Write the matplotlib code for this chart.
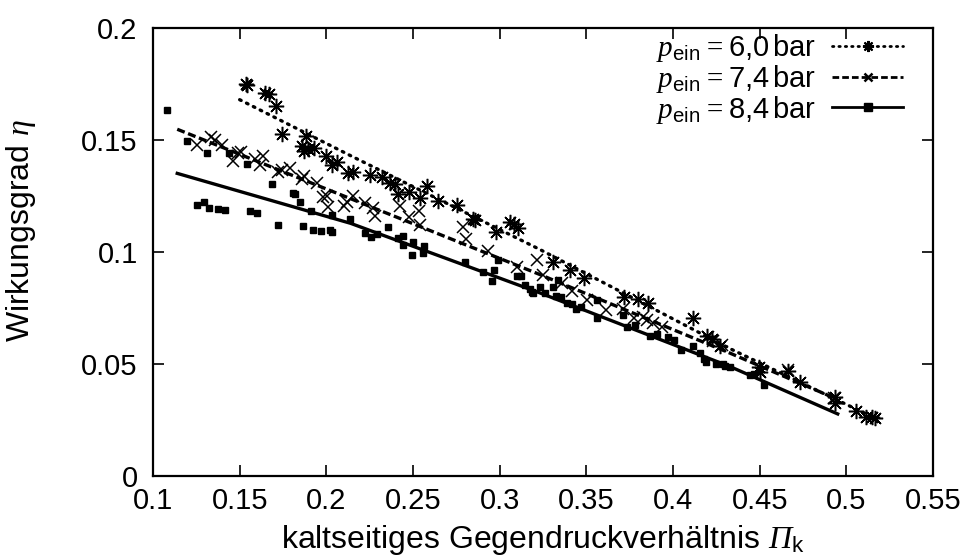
import matplotlib
matplotlib.use("Agg")
import matplotlib.pyplot as plt

# p_ein = 6,0 bar (asterisks)
x60 = [0.1538, 0.1542, 0.1646, 0.1669, 0.1710, 0.1742, 0.1883, 0.1858, 0.1871, 0.1896,
       0.1931, 0.1998, 0.2031, 0.2063, 0.2127, 0.2156, 0.2252, 0.2319, 0.2368, 0.2397,
       0.2416, 0.2479, 0.2541, 0.2583, 0.2647, 0.2756, 0.2845, 0.2858, 0.2979, 0.3060,
       0.3080, 0.3103, 0.3306, 0.3406, 0.3487, 0.3718, 0.3800, 0.3858, 0.4118, 0.4195,
       0.4224, 0.4272, 0.4494, 0.4503, 0.4666, 0.4730, 0.4935, 0.4935, 0.5057, 0.5114,
       0.5147, 0.5166]
y60 = [0.1748, 0.1744, 0.1711, 0.1704, 0.1653, 0.1527, 0.1519, 0.1475, 0.1452, 0.1458,
       0.1463, 0.1429, 0.1388, 0.1403, 0.1351, 0.1359, 0.1344, 0.1336, 0.1307, 0.1304,
       0.1259, 0.1268, 0.1240, 0.1295, 0.1228, 0.1210, 0.1146, 0.1143, 0.1091, 0.1135,
       0.1125, 0.1109, 0.0957, 0.0920, 0.0882, 0.0798, 0.0789, 0.0774, 0.0704, 0.0625,
       0.0610, 0.0580, 0.0485, 0.0466, 0.0470, 0.0421, 0.0351, 0.0324, 0.0292, 0.0265,
       0.0262, 0.0257]

# p_ein = 7,4 bar (crosses)
x74 = [0.1252, 0.1333, 0.1358, 0.1396, 0.1463, 0.1492, 0.1506, 0.1588, 0.1617, 0.1633,
       0.1723, 0.1742, 0.1790, 0.1858, 0.1871, 0.1944, 0.1983, 0.2002, 0.2012, 0.2102,
       0.2117, 0.2156, 0.2223, 0.2271, 0.2281, 0.2425, 0.2479, 0.2537, 0.2541, 0.2791,
       0.2806, 0.2930, 0.3099, 0.3214, 0.3248, 0.3358, 0.3416, 0.3506, 0.3614, 0.3711,
       0.3773, 0.3826, 0.3849, 0.3884, 0.3936, 0.4199, 0.4230, 0.4282, 0.4666, 0.4926]
y74 = [0.1478, 0.1515, 0.1500, 0.1478, 0.1408, 0.1443, 0.1448, 0.1414, 0.1388, 0.1429,
       0.1359, 0.1366, 0.1373, 0.1324, 0.1339, 0.1307, 0.1247, 0.1250, 0.1202, 0.1205,
       0.1225, 0.1250, 0.1217, 0.1198, 0.1161, 0.1205, 0.1155, 0.1183, 0.1120, 0.1113,
       0.1057, 0.1006, 0.0932, 0.0964, 0.0897, 0.0863, 0.0827, 0.0786, 0.0741, 0.0744,
       0.0704, 0.0708, 0.0696, 0.0685, 0.0667, 0.0622, 0.0604, 0.0585, 0.0473, 0.0347]

# p_ein = 8,4 bar (squares)
x84 = [0.1083, 0.1198, 0.1310, 0.1252, 0.1296, 0.1325, 0.1377, 0.1415, 0.1440, 0.1544,
       0.1560, 0.1600, 0.1688, 0.1723, 0.1806, 0.1817, 0.1848, 0.1863, 0.1910, 0.1921,
       0.1971, 0.2021, 0.2035, 0.2031, 0.2137, 0.2223, 0.2256, 0.2295, 0.2358, 0.2416,
       0.2445, 0.2441, 0.2502, 0.2493, 0.2556, 0.2566, 0.2801, 0.2906, 0.2968, 0.2958,
       0.2992, 0.3099, 0.3122, 0.3147, 0.3176, 0.3191, 0.3185, 0.3230, 0.3262, 0.3306,
       0.3339, 0.3325, 0.3352, 0.3387, 0.3416, 0.3441, 0.3468, 0.3560, 0.3560, 0.3711,
       0.3734, 0.3783, 0.3865, 0.3907, 0.3969, 0.4003, 0.4046, 0.4118, 0.4157, 0.4176,
       0.4192, 0.4249, 0.4291, 0.4301, 0.4326, 0.4442, 0.4465, 0.4522]
y84 = [0.1634, 0.1496, 0.1440, 0.1210, 0.1222, 0.1198, 0.1190, 0.1188, 0.1440, 0.1391,
       0.1183, 0.1173, 0.1304, 0.1121, 0.1262, 0.1259, 0.1222, 0.1116, 0.1183, 0.1097,
       0.1095, 0.1097, 0.1088, 0.1165, 0.1146, 0.1086, 0.1065, 0.1080, 0.1113, 0.1061,
       0.1071, 0.1031, 0.1046, 0.0987, 0.0997, 0.1027, 0.0954, 0.0912, 0.0920, 0.0870,
       0.0964, 0.0893, 0.0893, 0.0853, 0.0833, 0.0815, 0.0823, 0.0842, 0.0815, 0.0842,
       0.0875, 0.0804, 0.0798, 0.0771, 0.0768, 0.0744, 0.0753, 0.0786, 0.0704, 0.0719,
       0.0664, 0.0674, 0.0625, 0.0634, 0.0619, 0.0607, 0.0563, 0.0580, 0.0551, 0.0521,
       0.0510, 0.0500, 0.0500, 0.0491, 0.0485, 0.0451, 0.0455, 0.0406]

# fit curves
fit60_x = [0.150, 0.214, 0.323, 0.433, 0.516]
fit60_y = [0.1680, 0.1430, 0.1012, 0.0568, 0.0260]
fit74_x = [0.114, 0.214, 0.323, 0.433, 0.494]
fit74_y = [0.1548, 0.1238, 0.0900, 0.0548, 0.0345]
fit84_x = [0.114, 0.214, 0.323, 0.433, 0.495]
fit84_y = [0.1351, 0.1128, 0.0818, 0.0488, 0.0277]

labels = [r"$p_{\mathsf{ein}} = \mathsf{6{,}0\,bar}$",
          r"$p_{\mathsf{ein}} = \mathsf{7{,}4\,bar}$",
          r"$p_{\mathsf{ein}} = \mathsf{8{,}4\,bar}$"]

xticks = [0.1, 0.15, 0.2, 0.25, 0.3, 0.35, 0.4, 0.45, 0.5, 0.55]
yticks = [0, 0.05, 0.1, 0.15, 0.2]

DOT = (0, (0.5, 1.8))
DASH = (0, (2.4, 1.1))


def main():
    plt.rcParams['font.family'] = ['Liberation Sans', 'DejaVu Sans']
    # math: italic serif letters (p, eta, Pi), upright sans for \mathsf parts
    plt.rcParams['mathtext.fontset'] = 'custom'
    plt.rcParams['mathtext.it'] = 'Liberation Serif:italic'
    plt.rcParams['mathtext.rm'] = 'Liberation Serif:italic'
    plt.rcParams['mathtext.sf'] = 'Liberation Sans'
    plt.rcParams['font.size'] = 21

    fig = plt.figure(figsize=(9.7, 5.58), dpi=100)
    ax = fig.add_axes([0.1577, 0.147, 0.8042, 0.8028])

    ast = (8, 2, 0)
    ax.plot(x60, y60, ls='none', marker=ast, ms=11, mew=1.1, color='black')
    ax.plot(x74, y74, ls='none', marker='x', ms=9, mew=1.1, color='black')
    ax.plot(x84, y84, ls='none', marker='s', ms=4.2, color='black')

    ax.plot(fit60_x, fit60_y, ls=DOT, lw=2.4, color='black', dash_capstyle='round')
    ax.plot(fit74_x, fit74_y, ls=DASH, lw=2.4, color='black')
    ax.plot(fit84_x, fit84_y, ls='-', lw=2.4, color='black')

    # legend entries: line sample with the marker in the middle
    h60, = ax.plot([], [], ls=DOT, lw=2.0, color='black', marker=ast, ms=8, mew=1.5,
                   dash_capstyle='round')
    h74, = ax.plot([], [], ls=DASH, lw=2.0, color='black', marker='x', ms=6, mew=1.8)
    h84, = ax.plot([], [], ls='-', lw=2.0, color='black', marker='s', ms=6)
    ax.legend([h60, h74, h84], labels, loc='upper right', bbox_to_anchor=(0.962, 0.99),
              frameon=False, markerfirst=False, numpoints=1, handlelength=2.45,
              handletextpad=0.55, labelspacing=-0.05, borderpad=0.0, borderaxespad=0.0,
              fontsize=21)

    ax.set_xlim(0.1, 0.55)
    ax.set_ylim(0, 0.2)
    ax.set_xticks(xticks)
    ax.set_yticks(yticks)
    ax.set_xticklabels([f"{t:g}" for t in xticks])
    ax.set_yticklabels([f"{t:g}" for t in yticks])
    ax.tick_params(direction='in', length=8, width=1.2, top=True, right=True)
    ax.tick_params(axis='x', pad=8)
    ax.tick_params(axis='y', pad=11)
    for s in ax.spines.values():
        s.set_linewidth(1.6)

    ax.set_xlabel(r"kaltseitiges Gegendruckverhältnis $\Pi_{\mathsf{k}}$", fontsize=23, labelpad=6)
    ax.set_ylabel(r"Wirkungsgrad $\eta$", fontsize=23)
    ax.yaxis.set_label_coords(-0.148, 0.547)

    fig.savefig("out.png", dpi=100)


if __name__ == "__main__":
    main()
